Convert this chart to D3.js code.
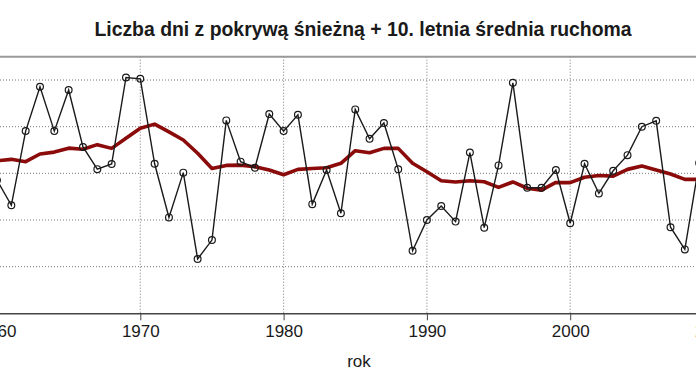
<!DOCTYPE html>
<html>
<head>
<meta charset="utf-8">
<script src="https://cdn.jsdelivr.net/npm/d3@7"></script>
<style>
  body { margin: 0; background: #fff; }
  text { font-family: "Liberation Sans", Arial, sans-serif; fill: #1a1a1a; }
</style>
</head>
<body>
<div id="chart"></div>
<script>
var width = 696, height = 385;

// lata
var years = d3.range(1960, 2010);

// liczba dni z pokrywą śnieżną
var snowDays = [57.1, 46.3, 78.1, 97.1, 78.1, 95.7, 71.3, 61.8, 64.0, 101.1,
                100.5, 64.1, 41.1, 60.3, 23.3, 31.4, 82.7, 65.0, 62.4, 85.4,
                78.1, 85.1, 46.8, 61.4, 42.9, 87.4, 74.8, 81.6, 61.7, 26.8,
                40.0, 46.0, 39.3, 68.9, 36.7, 63.4, 98.8, 53.8, 53.8, 61.4,
                38.6, 64.1, 51.4, 61.1, 67.8, 80.0, 82.5, 36.9, 27.4, 64.4];

// 10-letnia średnia ruchoma
var movingAvg = [65.4, 66.0, 65.0, 68.3, 69.1, 70.8, 70.3, 72.3, 70.7, 75.0,
                 79.3, 81.1, 77.8, 74.3, 68.6, 62.1, 63.4, 63.5, 62.8, 61.4,
                 59.4, 61.7, 62.1, 62.4, 64.3, 69.7, 68.8, 70.7, 70.7, 64.3,
                 60.7, 56.8, 56.3, 56.8, 56.4, 54.0, 56.3, 53.6, 52.8, 56.1,
                 56.0, 58.3, 59.1, 58.8, 61.7, 63.1, 61.4, 59.7, 57.4, 57.4];

var xTicks = [1960, 1970, 1980, 1990, 2000, 2010];
var yGrid = [20, 40, 60, 80, 100];

var svg = d3.select("#chart").append("svg")
    .attr("width", width)
    .attr("height", height);

var x = d3.scaleLinear().domain([1960, 2010]).range([-3, 713.5]);
var y = d3.scaleLinear().domain([0, 110]).range([313.3, 56.7]);

// siatka
svg.append("g").selectAll("line")
    .data(yGrid)
  .enter().append("line")
    .attr("x1", 0).attr("x2", width)
    .attr("y1", function(d) { return y(d); })
    .attr("y2", function(d) { return y(d); })
    .attr("stroke", "#777")
    .attr("stroke-width", 1)
    .attr("stroke-dasharray", "1,2");

svg.append("g").selectAll("line")
    .data(xTicks)
  .enter().append("line")
    .attr("x1", function(d) { return x(d); })
    .attr("x2", function(d) { return x(d); })
    .attr("y1", y(110)).attr("y2", y(0))
    .attr("stroke", "#777")
    .attr("stroke-width", 1)
    .attr("stroke-dasharray", "1,2");

// górna ramka
svg.append("line")
    .attr("x1", 0).attr("x2", width)
    .attr("y1", y(110)).attr("y2", y(110))
    .attr("stroke", "#999")
    .attr("stroke-width", 2);

// oś x
var xAxis = svg.append("g")
    .attr("transform", "translate(0," + y(0) + ")")
    .call(d3.axisBottom(x).tickValues(xTicks).tickFormat(d3.format("d"))
      .tickSize(7).tickSizeOuter(0).tickPadding(5));
xAxis.select(".domain").attr("stroke", "#444").attr("stroke-width", 1.6);
xAxis.selectAll(".tick line").attr("stroke", "#444");
xAxis.selectAll("text")
    .style("font-family", "'Liberation Sans', Arial, sans-serif")
    .style("font-size", "17px")
    .attr("fill", "#1a1a1a");

svg.append("text")
    .attr("x", 359).attr("y", 367)
    .attr("text-anchor", "middle")
    .style("font-size", "17px")
    .text("rok");

svg.append("text")
    .attr("x", 363).attr("y", 35.5)
    .attr("text-anchor", "middle")
    .style("font-size", "19.4px")
    .style("font-weight", "bold")
    .text("Liczba dni z pokrywą śnieżną + 10. letnia średnia ruchoma");

// średnia ruchoma
var avgLine = d3.line()
    .x(function(d, i) { return x(years[i]); })
    .y(function(d) { return y(d); });

svg.append("path")
    .datum(movingAvg)
    .attr("d", avgLine)
    .attr("fill", "none")
    .attr("stroke", "#8b0a0a")
    .attr("stroke-width", 3.6)
    .attr("stroke-linejoin", "round");

// dane roczne
svg.append("path")
    .datum(snowDays)
    .attr("d", avgLine)
    .attr("fill", "none")
    .attr("stroke", "#1a1a1a")
    .attr("stroke-width", 1.4);

svg.append("g").selectAll("circle")
    .data(snowDays)
  .enter().append("circle")
    .attr("cx", function(d, i) { return x(years[i]); })
    .attr("cy", function(d) { return y(d); })
    .attr("r", 3.4)
    .attr("fill", "none")
    .attr("stroke", "#1a1a1a")
    .attr("stroke-width", 1.2);
</script>
</body>
</html>
